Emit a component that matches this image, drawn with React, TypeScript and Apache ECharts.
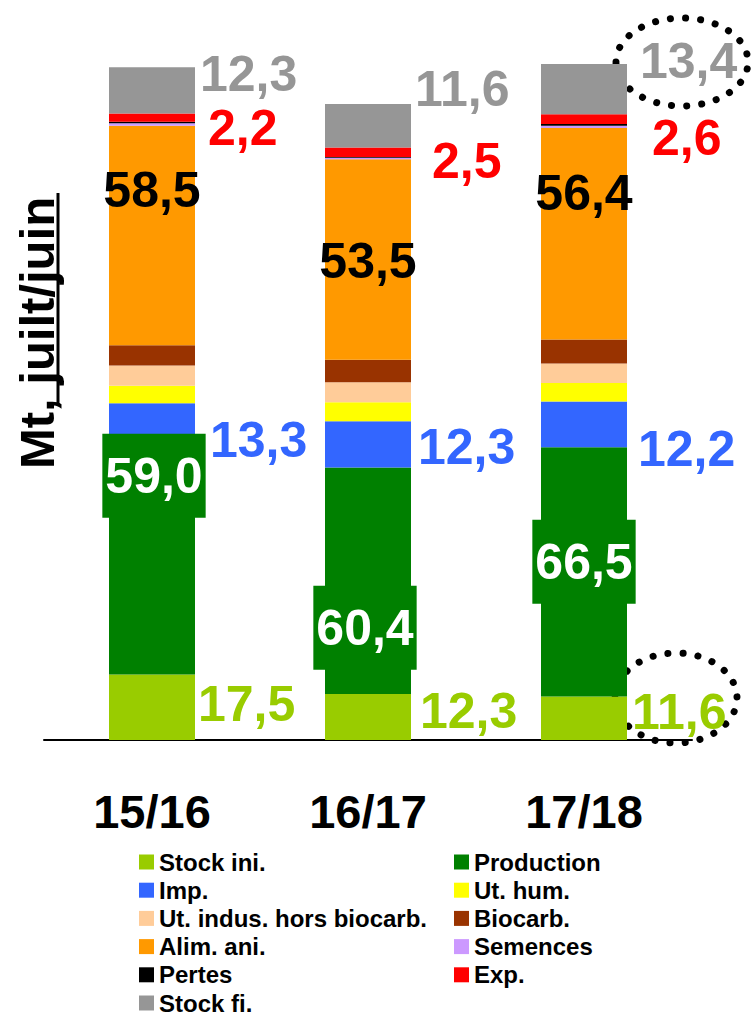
import React, { useEffect, useRef } from "react";
import * as echarts from "echarts";

const categories = ["15/16", "16/17", "17/18"];
const stockIni = [17.5, 12.3, 11.6];
const production = [59.0, 60.4, 66.5];
const imp = [13.3, 12.3, 12.2];
const utHum = [4.7, 5.1, 4.9];
const utIndus = [5.4, 5.3, 5.2];
const biocarb = [5.4, 6.0, 6.4];
const alimAni = [58.5, 53.5, 56.4];
const semences = [0.7, 0.4, 0.6];
const pertes = [0.4, 0.2, 0.5];
const exportations = [2.2, 2.5, 2.6];
const stockFi = [12.3, 11.6, 13.4];

const seriesNames = [
  "Stock ini.",
  "Production",
  "Imp.",
  "Ut. hum.",
  "Ut. indus. hors biocarb.",
  "Biocarb.",
  "Alim. ani.",
  "Semences",
  "Pertes",
  "Exp.",
  "Stock fi.",
];
const seriesValues = [
  stockIni,
  production,
  imp,
  utHum,
  utIndus,
  biocarb,
  alimAni,
  semences,
  pertes,
  exportations,
  stockFi,
];
const seriesColors = [
  "#99cc00",
  "#008000",
  "#3366ff",
  "#ffff00",
  "#ffcc99",
  "#993300",
  "#ff9900",
  "#cc99ff",
  "#000000",
  "#ff0000",
  "#969696",
];

const leftLegend = ["Stock ini.", "Imp.", "Ut. indus. hors biocarb.", "Alim. ani.", "Pertes", "Stock fi."];
const rightLegend = ["Production", "Ut. hum.", "Biocarb.", "Semences", "Exp."];

const FONT = "'Liberation Sans', Arial, sans-serif";
// label styling per series index -> per category offsets
const labelStyles: Record<number, any> = {
  0: { position: "right", color: "#99cc00", distance: 3, offsets: [[0, -3], [6, -6], [2, -6]] },
  1: {
    position: "inside",
    color: "#ffffff",
    backgroundColor: "#008000",
    padding: [17, 3],
    offsets: [[2, -88], [-3, 47], [0, -10]],
  },
  2: { position: "right", color: "#3366ff", distance: 15, offsets: [[0, 12], [-8, 3], [-4, 25]] },
  6: { position: "inside", color: "#000000", offsets: [[0, -45], [0, 2], [0, -41]] },
  9: { position: "right", color: "#ff0000", distance: 13, offsets: [[0, 10], [8, 9], [12, 19]] },
  10: { position: "right", color: "#969696", distance: 5, offsets: [[0, -16], [-1, -37], [8, -28]] },
};

const fmt = (v: number) => v.toFixed(1).replace(".", ",");

export default function App() {
  const ref = useRef<HTMLDivElement>(null);

  useEffect(() => {
    if (!ref.current) return;
    const chart = echarts.init(ref.current, undefined, { renderer: "svg" });

    const series = seriesNames.map((name, si) => {
      const ls = labelStyles[si];
      return {
        name,
        type: "bar",
        stack: "total",
        barWidth: 86,
        itemStyle: { color: seriesColors[si] },
        emphasis: { disabled: true },
        data: seriesValues[si].map((v, ci) => {
          if (!ls) return { value: v, label: { show: false } };
          return {
            value: v,
            label: {
              show: true,
              position: ls.position,
              distance: ls.distance ?? 5,
              offset: ls.offsets[ci],
              formatter: fmt(v),
              color: ls.color,
              fontFamily: FONT,
              fontWeight: "bold",
              fontSize: 50,
              backgroundColor: ls.backgroundColor,
              padding: ls.padding,
            },
          };
        }),
      };
    });

    const legendCommon = {
      orient: "vertical",
      icon: "rect",
      itemWidth: 15,
      itemHeight: 15,
      itemGap: 4.2,
      padding: 0,
      height: 200,
      selectedMode: false,
      textStyle: {
        fontFamily: FONT,
        fontWeight: "bold",
        fontSize: 24,
        lineHeight: 22,
        color: "#000000",
      },
    };

    chart.setOption({
      animation: false,
      backgroundColor: "#ffffff",
      grid: { left: 44, right: 64, top: 27.5, bottom: 276, containLabel: false },
      xAxis: {
        type: "category",
        data: categories,
        axisLine: { show: true, lineStyle: { color: "#000000", width: 2 } },
        axisTick: { show: false },
        axisLabel: {
          margin: 48,
          fontFamily: FONT,
          fontWeight: "bold",
          fontSize: 47,
          color: "#000000",
        },
      },
      yAxis: { type: "value", min: 0, max: 190, show: false },
      legend: [
        { ...legendCommon, data: leftLegend, left: 139, top: 850 },
        { ...legendCommon, data: rightLegend, left: 454, top: 850 },
      ],
      series,
      graphic: [
        {
          type: "text",
          x: 37,
          y: 333,
          rotation: Math.PI / 2,
          style: {
            text: "Mt, juilt/juin",
            fontFamily: FONT,
            fontWeight: "bold",
            fontSize: 49,
            fill: "#000000",
            align: "center",
            verticalAlign: "middle",
          },
        },
        {
          type: "line",
          shape: { x1: 58, y1: 193, x2: 58, y2: 405 },
          style: { stroke: "#000000", lineWidth: 3 },
        },
        {
          type: "ellipse",
          shape: { cx: 682, cy: 62, rx: 66, ry: 44 },
          style: { fill: "none", stroke: "#000000", lineWidth: 7, lineDash: [0.1, 15], lineCap: "round" },
        },
        {
          type: "ellipse",
          shape: { cx: 676, cy: 698, rx: 61, ry: 45 },
          style: { fill: "none", stroke: "#000000", lineWidth: 7, lineDash: [0.1, 15], lineCap: "round" },
        },
      ],
    });

    return () => chart.dispose();
  }, []);

  return <div ref={ref} style={{ width: 756, height: 1016, position: "absolute", left: 0, top: 0 }} />;
}
